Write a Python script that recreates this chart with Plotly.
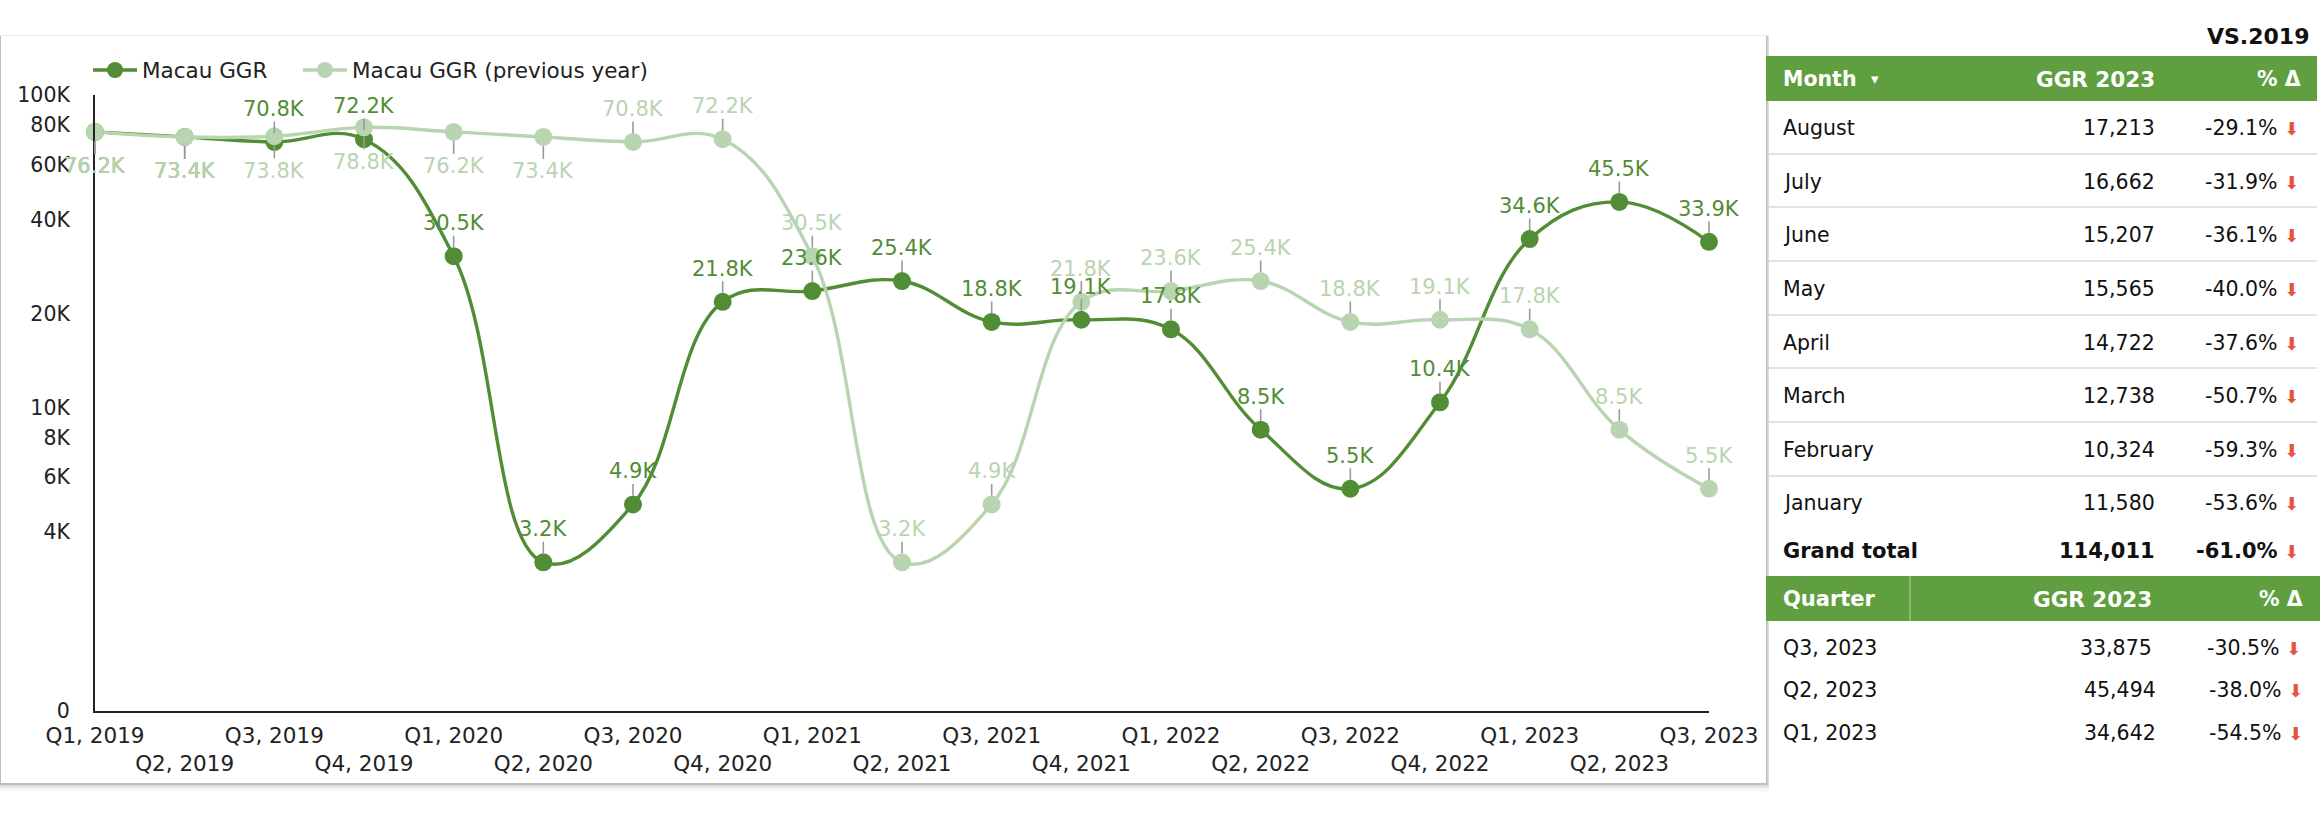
import numpy as np
import plotly.graph_objects as go

quarters = ["Q1, 2019","Q2, 2019","Q3, 2019","Q4, 2019","Q1, 2020","Q2, 2020","Q3, 2020","Q4, 2020",
            "Q1, 2021","Q2, 2021","Q3, 2021","Q4, 2021","Q1, 2022","Q2, 2022","Q3, 2022","Q4, 2022",
            "Q1, 2023","Q2, 2023","Q3, 2023"]
ggr = [76200,73400,70800,72200,30500,3200,4900,21800,23600,25400,18800,19100,17800,8500,5500,10400,34600,45500,33900]
prev = [76200,73400,73800,78800,76200,73400,70800,72200,30500,3200,4900,21800,23600,25400,18800,19100,17800,8500,5500]
ggr_below = [0,1]
prev_below = [0,1,2,3,4,5]
y_tick_vals = [1070,4000,6000,8000,10000,20000,40000,60000,80000,100000]
y_tick_text = ["0","4K","6K","8K","10K","20K","40K","60K","80K","100K"]

months = ["August","July","June","May","April","March","February","January"]
month_ggr = ["17,213","16,662","15,207","15,565","14,722","12,738","10,324","11,580"]
month_pct = ["-29.1%","-31.9%","-36.1%","-40.0%","-37.6%","-50.7%","-59.3%","-53.6%"]
total = ["Grand total","114,011","-61.0%"]
q_names = ["Q3, 2023","Q2, 2023","Q1, 2023"]
q_ggr = ["33,875","45,494","34,642"]
q_pct = ["-30.5%","-38.0%","-54.5%"]

DARK = "#518d34"; LIGHT = "#b8d4b1"; HEAD = "#5f9f3f"; RED = "#e5533d"; FONT = "DejaVu Sans"; LEAD = "#9a9a9a"
L, R, T, B = 95, 1709, 95, 711
W, H = 2320, 823
def px(x): return (x - L) / (R - L)
def py(y): return (B - y) / (B - T)

idx = list(range(len(quarters)))
ticktext = [q if i % 2 == 0 else "&nbsp;<br>" + q for i, q in enumerate(quarters)]

fig = go.Figure()
for k, (name, vals, col) in enumerate([("Macau GGR", ggr, DARK), ("Macau GGR (previous year)", prev, LIGHT)]):
    fig.add_trace(go.Scatter(x=idx, y=vals, name=name, mode="lines+markers", cliponaxis=False, showlegend=True,
                             legend="legend" if k == 0 else "legend2",
                             line=dict(color=col, width=3.4, shape="spline", smoothing=1.15),
                             marker=dict(color=col, size=18)))

def fmt(v): return f"{v/1000:.1f}K"
anns = []
for vals, col, below in [(ggr, DARK, ggr_below), (prev, LIGHT, prev_below)]:
    for i, v in enumerate(vals):
        anns.append(dict(x=i, y=np.log10(v), xref="x", yref="y", text=fmt(v), showarrow=True, arrowhead=0,
                         arrowwidth=1.6, arrowcolor=LEAD, ax=0, ay=34.5 if i in below else -33, standoff=9,
                         borderpad=0, font=dict(family=FONT, size=21, color=col)))

def text(x, y, s, anchor="left", size=20.5, color="#111", bold=False):
    anns.append(dict(x=px(x), y=py(y), xref="paper", yref="paper", text=f"<b>{s}</b>" if bold else s,
                     showarrow=False, xanchor=anchor, yanchor="middle", borderpad=0,
                     font=dict(family=FONT, size=size, color=color)))

def rect(x0, y0, x1, y1, fill, layer="below", opacity=1):
    return dict(type="rect", xref="paper", yref="paper", x0=px(x0), x1=px(x1), y0=py(y0), y1=py(y1),
                fillcolor=fill, line_width=0, layer=layer, opacity=opacity)

CL, CT, CR, CB = 1, 36, 1766, 783
shapes = []
for dx, dt, db, op in [(7, 1, 9, .025), (5, .5, 6, .04), (3, .5, 4, .07), (1.5, 0, 2, .14)]:
    shapes.append(rect(CL - dx, CT - dt, CR + dx, CB + db, "#000000", opacity=op))
shapes.append(rect(CL, CT, CR, CB, "#ffffff"))
shapes.append(rect(1769, 0, 2320, 823, "#ffffff"))
shapes.append(rect(1766, 56, 2317, 101, HEAD))
shapes.append(rect(1766, 576, 2320, 621, HEAD))
shapes.append(rect(1909.5, 576, 1910.5, 621, "#b5d3a3"))
for y in [154, 207, 261, 315, 368, 422, 476]:
    shapes.append(rect(1767, y - 0.75, 2317, y + 0.75, "#d9d9d9"))

text(2310, 36, "VS.2019", "right", 22, "#111", True)
text(1782, 79, "Month", bold=True, color="white")
text(1875, 79, "▾", "center", 15, "white")
text(2156, 79, "GGR 2023", "right", 21.5, color="white", bold=True)
text(2302, 79, "% Δ", "right", color="white", bold=True)
row_y = [128, 182, 235, 289, 343, 396, 450, 503]
ARROW = 18
for y, a, b, c in zip(row_y, months, month_ggr, month_pct):
    text(1782, y, a); text(2156, y, b, "right"); text(2279, y, c, "right")
    text(2291, y, "⬇", "center", ARROW, RED)
text(1782, 551, total[0], size=21, bold=True); text(2156, 551, total[1], "right", size=21, bold=True)
text(2279, 551, total[2], "right", size=21, bold=True); text(2291, 551, "⬇", "center", ARROW, RED)
text(1782, 599, "Quarter", size=21, bold=True, color="white")
text(2153, 599, "GGR 2023", "right", 21.5, color="white", bold=True)
text(2304, 599, "% Δ", "right", color="white", bold=True)
q_y = [648, 690, 733]; q_r = [2153, 2157, 2157]; p_r = [2281, 2283, 2283]
for y, a, b, c, r1, r2 in zip(q_y, q_names, q_ggr, q_pct, q_r, p_r):
    text(1782, y, a); text(r1, y, b, "right"); text(r2, y, c, "right")
    text(r2 + 12, y, "⬇", "center", ARROW, RED)

legend_common = dict(orientation="h", yanchor="middle", itemwidth=44, y=py(70), xanchor="left",
                     font=dict(family=FONT, size=21.5, color="#222"), bgcolor="rgba(0,0,0,0)")
fig.update_layout(
    width=W, height=H, margin=dict(l=L, r=W - R, t=T, b=H - B, autoexpand=False),
    paper_bgcolor="white", plot_bgcolor="rgba(0,0,0,0)", shapes=shapes, annotations=anns,
    font=dict(family=FONT, size=20, color="#111"), showlegend=True,
    legend=dict(x=px(88), **legend_common),
    legend2=dict(x=px(298), **legend_common),
    xaxis=dict(range=[0, 18], tickmode="array", tickvals=idx, ticktext=ticktext, showgrid=False, zeroline=False,
               showline=True, linecolor="#222", linewidth=2, ticks="", tickangle=0, ticklabelstandoff=4,
               tickfont=dict(family=FONT, size=21.5, color="#222")),
    yaxis=dict(type="log", range=[np.log10(1070), 5], tickmode="array", tickvals=y_tick_vals, ticktext=y_tick_text,
               showgrid=False, zeroline=False, showline=True, linecolor="#222", linewidth=2, ticks="",
               ticklabelstandoff=19, tickfont=dict(family=FONT, size=20.5, color="#222")),
)
fig.write_html("out.html", post_script="document.body.style.margin='0';", config={"displayModeBar": False})
